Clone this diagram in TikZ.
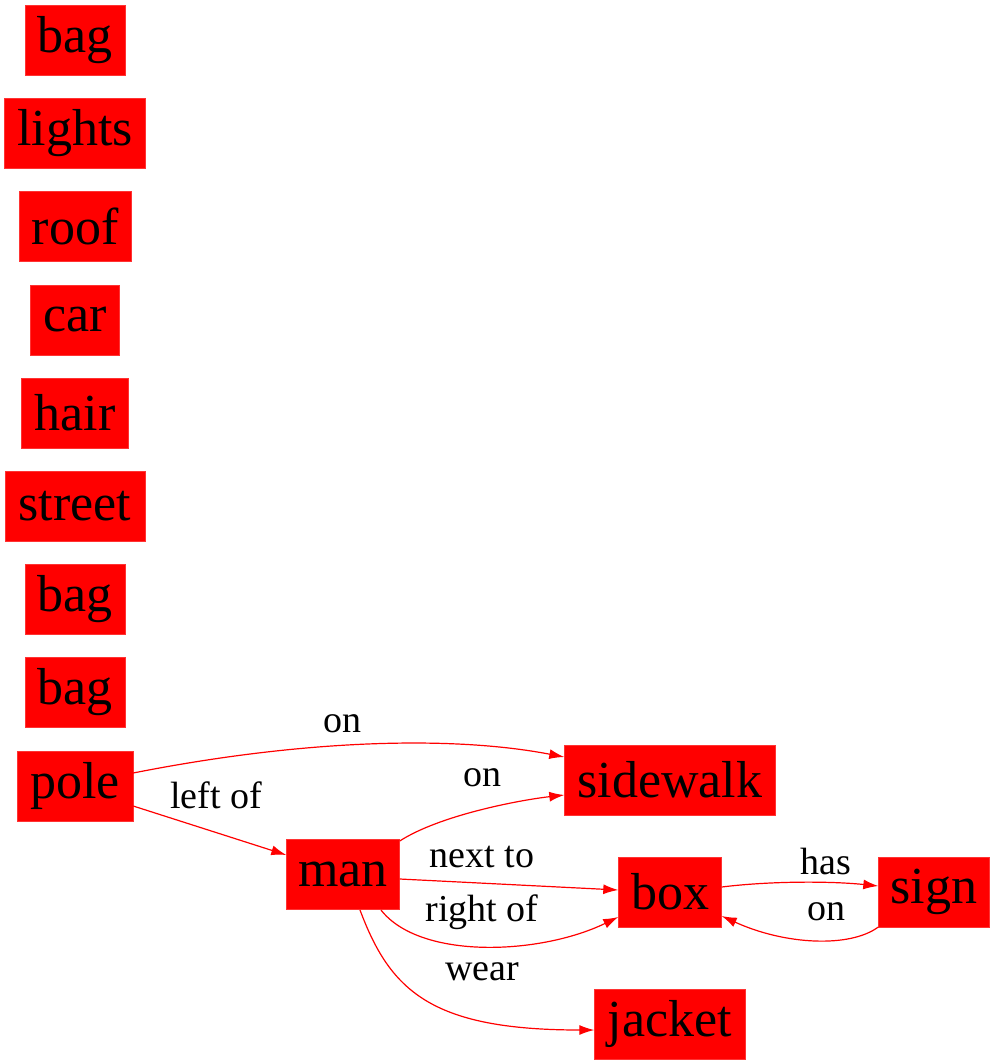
\documentclass[tikz,border=0pt]{standalone}
\usepackage{fontspec}
\setmainfont{Liberation Serif}
\usetikzlibrary{arrows.meta}
\begin{document}
\begin{tikzpicture}[x=1pt, y=-1pt, >={Latex[length=15pt,width=10pt]},
    obj/.style={fill=red, draw=red!80!white, inner sep=0pt, minimum height=70pt,
        font=\fontsize{52}{52}\selectfont},
    rel/.style={->, red, line width=1.2pt},
    lbl/.style={font=\fontsize{38}{38}\selectfont, inner sep=0pt}]
\useasboundingbox (0,0) rectangle (995,1064);
% objects without relations
\node[obj, minimum width=100pt] (bagA) at (75,40) {bag};
\node[obj, minimum width=141pt] (lights) at (75,133) {lights};
\node[obj, minimum width=112pt] (roof) at (75,226) {roof};
\node[obj, minimum width=89pt] (car) at (75,320) {car};
\node[obj, minimum width=107pt] (hair) at (75,413) {hair};
\node[obj, minimum width=140pt] (street) at (75,506) {street};
\node[obj, minimum width=100pt] (bagB) at (75,599) {bag};
\node[obj, minimum width=100pt] (bagC) at (75,692) {bag};
% scene graph
\node[obj, minimum width=116pt] (pole) at (75,786) {pole};
\node[obj, minimum width=113pt] (man) at (343,874) {man};
\node[obj, minimum width=211pt] (sidewalk) at (670,780) {sidewalk};
\node[obj, minimum width=103pt] (box) at (670,892) {box};
\node[obj, minimum width=111pt] (sign) at (934,892) {sign};
\node[obj, minimum width=151pt] (jacket) at (670,1024) {jacket};

\draw[rel] (pole.east |- 0,773) .. controls (300,740) and (450,735) .. (sidewalk.west |- 0,757);
\draw[rel] (pole.east |- 0,806) -- (man.west |- 0,855);
\draw[rel] (man.east |- 0,841) .. controls (440,815) and (520,800) .. (sidewalk.west |- 0,795);
\draw[rel] (man.east |- 0,879) -- (box.west |- 0,890);
\draw[rel] (381,910) .. controls (420,960) and (540,955) .. (box.west |- 0,917);
\draw[rel] (360,910) .. controls (390,990) and (430,1030) .. (jacket.west |- 0,1030);
\draw[rel] (box.east |- 0,887) .. controls (770,881) and (830,881) .. (sign.west |- 0,886);
\draw[rel] (sign.west |- 0,927) .. controls (850,948) and (785,945) .. (box.east |- 0,916);

\node[lbl] (lOnA) at (342,724) {on};
\node[lbl] (lLeft) at (216,795) {left of};
\node[lbl] (lOnB) at (482,778) {on};
\node[lbl] (lNext) at (482,857) {next to};
\node[lbl] (lRight) at (482,912) {right of};
\node[lbl] (lWear) at (482,972) {wear};
\node[lbl] (lHas) at (826,861) {has};
\node[lbl] (lOnC) at (826,912) {on};
\end{tikzpicture}
\end{document}
